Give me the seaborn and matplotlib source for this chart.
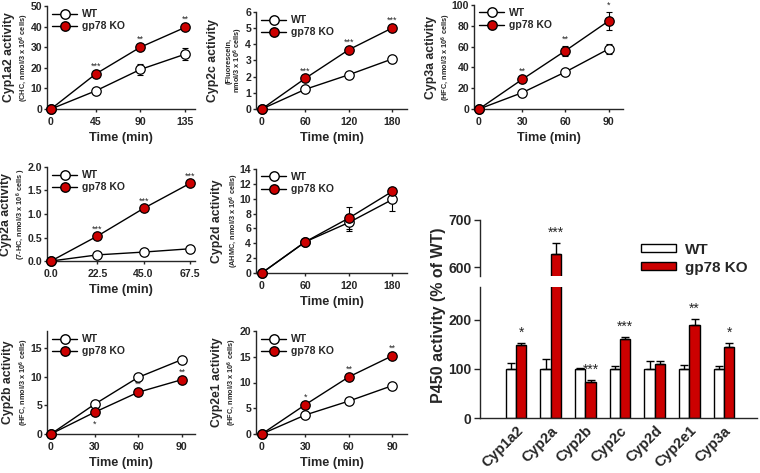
import numpy as np
import pandas as pd
import matplotlib
matplotlib.use("Agg")
import matplotlib.pyplot as plt
import seaborn as sns
from matplotlib.lines import Line2D
from matplotlib.patches import Patch

sns.set_style("ticks")
plt.rcParams["font.family"] = ["Liberation Sans", "DejaVu Sans"]
plt.rcParams["font.weight"] = "bold"
plt.rcParams["axes.labelweight"] = "bold"
plt.rcParams["mathtext.fontset"] = "custom"
plt.rcParams["mathtext.rm"] = "Liberation Sans:bold"
plt.rcParams["mathtext.default"] = "rm"
plt.rcParams["axes.linewidth"] = 1.0

RED = "#cc0000"

# ---------------- data: time courses ----------------
t_1a2 = [0, 45, 90, 135]
wt_1a2 = [0, 8.8, 19.2, 26.6]
wt_1a2_err = [0, 0.6, 2.6, 3.0]
ko_1a2 = [0, 17.0, 30.0, 39.6]
ko_1a2_err = [0, 0.8, 0.8, 1.0]
st_1a2 = ["", "***", "**", "**"]

t_2c = [0, 60, 120, 180]
wt_2c = [0, 1.22, 2.12, 3.10]
wt_2c_err = [0, 0.05, 0.05, 0.06]
ko_2c = [0, 1.90, 3.67, 5.02]
ko_2c_err = [0, 0.06, 0.06, 0.06]
st_2c = ["", "***", "***", "***"]

t_3a = [0, 30, 60, 90]
wt_3a = [0, 15.7, 35.6, 57.7]
wt_3a_err = [0, 1.0, 2.0, 5.0]
ko_3a = [0, 28.5, 56.0, 84.6]
ko_3a_err = [0, 2.0, 5.0, 9.0]
st_3a = ["", "**", "**", "*"]

t_2a = [0, 22.5, 45.0, 67.5]
wt_2a = [0, 0.13, 0.19, 0.26]
wt_2a_err = [0, 0.01, 0.01, 0.01]
ko_2a = [0, 0.53, 1.12, 1.65]
ko_2a_err = [0, 0.02, 0.02, 0.02]
st_2a = ["", "***", "***", "***"]

t_2d = [0, 60, 120, 180]
wt_2d = [0, 4.2, 6.8, 9.9]
wt_2d_err = [0, 0.15, 1.1, 1.6]
ko_2d = [0, 4.2, 7.4, 11.0]
ko_2d_err = [0, 0.15, 1.5, 0.5]
st_2d = ["", "", "", ""]

t_2b = [0, 30, 60, 90]
wt_2b = [0, 5.2, 9.9, 13.0]
wt_2b_err = [0, 0.2, 0.2, 0.2]
ko_2b = [0, 3.8, 7.3, 9.5]
ko_2b_err = [0, 0.3, 0.3, 0.3]
st_2b = ["", "*", "**", "**"]

t_2e1 = [0, 30, 60, 90]
wt_2e1 = [0, 3.7, 6.4, 9.4]
wt_2e1_err = [0, 0.2, 0.2, 0.2]
ko_2e1 = [0, 5.7, 11.1, 15.2]
ko_2e1_err = [0, 0.3, 0.3, 0.3]
st_2e1 = ["", "*", "**", "**"]

# ---------------- data: P450 activity bars ----------------
cyps = ["Cyp1a2", "Cyp2a", "Cyp2b", "Cyp2c", "Cyp2d", "Cyp2e1", "Cyp3a"]
wt_pct = [100, 100, 100, 100, 100, 100, 100]
wt_pct_err = [12, 20, 2, 5, 17, 8, 6]
ko_pct = [148, 627, 73, 161, 110, 189, 145]
ko_pct_err = [5, 25, 5, 5, 6, 13, 8]
bar_stars = ["*", "***", "***", "***", "", "**", "*"]

# ---------------- figure ----------------
W, H = 760, 473
fig = plt.figure(figsize=(W / 100, H / 100), dpi=100)


def add_ax(l, t, r, b):
    return fig.add_axes([l / W, 1 - b / H, (r - l) / W, (b - t) / H])


def style_axes(ax, fs=7.6):
    sns.despine(ax=ax)
    ax.tick_params(axis="y", direction="out", length=2.5, width=1,
                   labelsize=fs, pad=1.0)
    ax.tick_params(axis="x", direction="out", length=2.5, width=1,
                   labelsize=fs, pad=3.0)
    for lab in ax.get_xticklabels() + ax.get_yticklabels():
        lab.set_fontweight("bold")


def time_panel(box, t, wt, wte, ko, koe, stars, ylim, yticks, xlim, xticks,
               xticklabels, yfmt, main, subs, main_off, sub_offs, below=()):
    l, tp, r, b = box
    ax = add_ax(*box)
    sns.lineplot(x=t, y=wt, ax=ax, color="black", lw=1, marker="o",
                 markersize=6.8, markerfacecolor="white",
                 markeredgecolor="black", markeredgewidth=0.9, zorder=4,
                 clip_on=False)
    sns.lineplot(x=t, y=ko, ax=ax, color="black", lw=1, marker="o",
                 markersize=6.8, markerfacecolor=RED,
                 markeredgecolor="black", markeredgewidth=0.9, zorder=5,
                 clip_on=False)
    ax.errorbar(t, wt, yerr=wte, fmt="none", ecolor="black", elinewidth=0.8,
                capsize=2, capthick=0.8, zorder=3)
    ax.errorbar(t, ko, yerr=koe, fmt="none", ecolor="black", elinewidth=0.8,
                capsize=2, capthick=0.8, zorder=3)
    ax.set_xlim(*xlim)
    ax.set_ylim(*ylim)
    ax.set_yticks(yticks)
    ax.set_yticklabels([yfmt.format(v) for v in yticks])
    ax.set_xticks(xticks)
    ax.set_xticklabels(xticklabels)
    style_axes(ax)
    ax.set_ylabel("")
    ax.set_xlabel("Time (min)", fontsize=9.2, fontweight="bold", labelpad=4)
    for i, s in enumerate(stars):
        if not s:
            continue
        if i in below:
            ax.annotate(s, (t[i], ko[i] - koe[i]), xytext=(0, -4.5),
                        textcoords="offset points", ha="center", va="top",
                        fontsize=6.5, fontweight="normal")
        else:
            ax.annotate(s, (t[i], ko[i] + koe[i]), xytext=(0, 1.2),
                        textcoords="offset points", ha="center",
                        va="bottom", fontsize=6.5, fontweight="normal")
    handles = [
        Line2D([], [], color="black", lw=1, marker="o", markersize=6.8,
               markerfacecolor="white", markeredgecolor="black"),
        Line2D([], [], color="black", lw=1, marker="o", markersize=6.8,
               markerfacecolor=RED, markeredgecolor="black"),
    ]
    ax.legend(handles, ["WT", "gp78 KO"], loc="upper left",
              bbox_to_anchor=(0.0, 1.02), frameon=False, fontsize=7.5,
              handlelength=2.4, handletextpad=0.5, labelspacing=0.2,
              borderaxespad=0.3, borderpad=0.2)
    yc = 1 - (tp + b) / 2 / H
    fig.text((l - main_off) / W, yc, main, rotation=90, ha="center",
             va="center", fontsize=8.8, fontweight="bold")
    for s, off in zip(subs, sub_offs):
        fig.text((l - off) / W, yc, s, rotation=90, ha="center",
                 va="center", fontsize=5.3, fontweight="bold")
    return ax


sup = "nmol/3 x 10$^6$ cells)"

time_panel((47, 6, 195, 109), t_1a2, wt_1a2, wt_1a2_err, ko_1a2, ko_1a2_err,
           st_1a2, (0, 50), [0, 10, 20, 30, 40, 50], (-4, 145), t_1a2,
           ["0", "45", "90", "135"], "{:.0f}", "Cyp1a2 activity",
           ["(CHC, " + sup], 38, [23])

time_panel((256, 12, 407, 109), t_2c, wt_2c, wt_2c_err, ko_2c, ko_2c_err,
           st_2c, (0, 6), [0, 1, 2, 3, 4, 5, 6], (-8, 200), t_2c,
           ["0", "60", "120", "180"], "{:.0f}", "Cyp2c activity",
           ["(Fluorescein,", sup], 43, [27, 18])

time_panel((474, 5, 623, 109), t_3a, wt_3a, wt_3a_err, ko_3a, ko_3a_err,
           st_3a, (0, 100), [0, 20, 40, 60, 80, 100], (-3.5, 100), t_3a,
           ["0", "30", "60", "90"], "{:.0f}", "Cyp3a activity",
           ["(HFC, " + sup], 43, [28])

time_panel((47, 167, 195, 261), t_2a, wt_2a, wt_2a_err, ko_2a, ko_2a_err,
           st_2a, (0, 2.0), [0, 0.5, 1.0, 1.5, 2.0], (-2, 70), t_2a,
           ["0.0", "22.5", "45.0", "67.5"], "{:.1f}", "Cyp2a activity",
           ["(7-HC, nmol/3 x 10$^6$ cells )"], 40.5, [26])

time_panel((256, 169, 407, 273), t_2d, wt_2d, wt_2d_err, ko_2d, ko_2d_err,
           st_2d, (0, 14), [0, 2, 4, 6, 8, 10, 12, 14], (-8, 200), t_2d,
           ["0", "60", "120", "180"], "{:.0f}", "Cyp2d activity",
           ["(AHMC, " + sup], 39, [22])

time_panel((47, 331, 195, 434), t_2b, wt_2b, wt_2b_err, ko_2b, ko_2b_err,
           st_2b, (0, 18), [0, 5, 10, 15], (-2.7, 99), t_2b,
           ["0", "30", "60", "90"], "{:.0f}", "Cyp2b activity",
           ["(HFC, " + sup], 39, [23], below=(1,))

time_panel((256, 331, 407, 434), t_2e1, wt_2e1, wt_2e1_err, ko_2e1,
           ko_2e1_err, st_2e1, (0, 20), [0, 5, 10, 15, 20], (-4, 100), t_2e1,
           ["0", "30", "60", "90"], "{:.0f}", "Cyp2e1 activity",
           ["(HFC, " + sup], 39, [23.5])

# ---------------- broken-axis bar chart ----------------
df = pd.DataFrame({
    "gene": cyps * 2,
    "genotype": ["WT"] * len(cyps) + ["gp78 KO"] * len(cyps),
    "pct": wt_pct + ko_pct,
})
err_map = {("WT", g): e for g, e in zip(cyps, wt_pct_err)}
err_map.update({("gp78 KO", g): e for g, e in zip(cyps, ko_pct_err)})

ax_lo = add_ax(480, 287, 757, 418)
ax_hi = add_ax(480, 220, 757, 276)
pal = {"WT": "white", "gp78 KO": RED}

for ax in (ax_lo, ax_hi):
    sns.barplot(data=df, x="gene", y="pct", hue="genotype",
                hue_order=["WT", "gp78 KO"], order=cyps, palette=pal,
                edgecolor="black", linewidth=1, width=0.6, errorbar=None,
                legend=False, ax=ax, saturation=1)
    # error bars (upper only) placed on the bars seaborn drew
    for p in list(ax.patches):
        h = p.get_height()
        if np.isnan(h) or p.get_width() == 0:
            continue
        cx = p.get_x() + p.get_width() / 2
        g = cyps[int(round(cx))]
        geno = "WT" if np.allclose(p.get_facecolor()[:3], (1, 1, 1)) else "gp78 KO"
        e = err_map[(geno, g)]
        ax.errorbar([cx], [h], yerr=[[0], [e]], fmt="none", ecolor="black",
                    elinewidth=1, capsize=3, capthick=1, zorder=3)
        s = bar_stars[cyps.index(g)]
        if geno == "gp78 KO" and s:
            ax.annotate(s, (cx, h + e), xytext=(0, 2),
                        textcoords="offset points", ha="center", va="bottom",
                        fontsize=10, fontweight="normal",
                        annotation_clip=True)
    ax.set_xlim(-1.04, 6.95)
    ax.set_xlabel("")
    ax.set_ylabel("")

ax_lo.set_ylim(0, 267)
ax_lo.set_yticks([0, 100, 200])
ax_hi.set_ylim(581, 700)
ax_hi.set_yticks([600, 700])

sns.despine(ax=ax_lo)
sns.despine(ax=ax_hi, bottom=True)
ax_hi.set_xticks([])
for ax in (ax_lo, ax_hi):
    ax.tick_params(axis="y", direction="out", length=4, width=1,
                   labelsize=10, pad=2)
ax_lo.tick_params(axis="x", length=0, pad=4)
ax_lo.set_xticks(range(len(cyps)))
ax_lo.set_xticklabels(cyps, rotation=45, ha="right", va="top",
                      rotation_mode="anchor", fontsize=10.5,
                      fontweight="bold")
for lab in ax_lo.get_yticklabels() + ax_hi.get_yticklabels():
    lab.set_fontweight("bold")

fig.text(438 / W, 1 - 315 / H, "P450 activity (% of WT)", rotation=90,
         ha="center", va="center", fontsize=11.5, fontweight="bold")

bar_handles = [Patch(facecolor="white", edgecolor="black", lw=1),
               Patch(facecolor=RED, edgecolor="black", lw=1)]
fig.legend(bar_handles, ["WT", "gp78 KO"], loc="upper left",
           bbox_to_anchor=(630 / W, 1 - 232 / H), frameon=False,
           fontsize=11, handlelength=2.3, handleheight=0.45,
           handletextpad=0.6, labelspacing=0.25, borderpad=0.2)

fig.savefig("out.png", dpi=100)
